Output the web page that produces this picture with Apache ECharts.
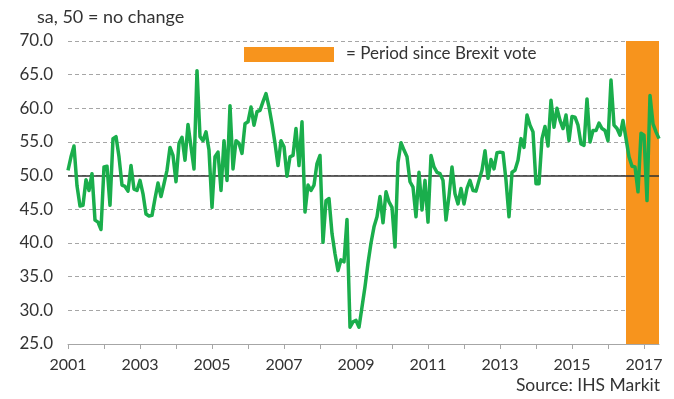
<!DOCTYPE html>
<html>
<head>
<meta charset="utf-8">
<script src="https://cdn.jsdelivr.net/npm/echarts@6/dist/echarts.min.js"></script>
<style>
html,body{margin:0;padding:0;background:#fff;}
#chart{width:674px;height:399px;}
</style>
</head>
<body>
<div id="chart"></div>
<script>
// Monthly index values, Jan 2001 - Jun 2017 (sa, 50 = no change)
var v2001 = [50.8, 52.8, 54.4, 48.5, 45.5, 45.6, 49.4, 47.8, 50.3, 43.4, 43.1, 42.0];
var v2002 = [51.3, 51.4, 45.6, 55.5, 55.8, 52.8, 48.6, 48.4, 47.7, 51.5, 48.0, 47.8];
var v2003 = [49.3, 47.3, 44.3, 44.0, 44.1, 46.6, 48.9, 46.9, 48.8, 50.8, 54.2, 53.0];
var v2004 = [49.1, 54.8, 55.7, 52.3, 57.6, 54.3, 51.0, 65.6, 55.8, 55.2, 56.5, 53.8];
var v2005 = [45.3, 52.8, 53.5, 47.8, 55.2, 49.3, 60.4, 51.0, 55.2, 54.8, 53.3, 57.7];
var v2006 = [58.0, 60.2, 57.5, 59.5, 59.7, 61.0, 62.2, 60.2, 57.7, 54.8, 51.5, 55.2];
var v2007 = [54.3, 49.9, 52.8, 53.0, 57.0, 51.5, 58.0, 44.6, 48.6, 47.8, 48.6, 51.8];
var v2008 = [53.0, 40.1, 46.3, 46.6, 41.4, 38.4, 35.9, 37.5, 37.2, 43.5, 27.5, 28.3];
var v2009 = [28.5, 27.5, 30.5, 33.5, 37.0, 40.0, 42.4, 43.9, 46.9, 43.0, 47.6, 46.1];
var v2010 = [45.3, 39.4, 52.0, 54.9, 53.8, 52.8, 49.1, 48.3, 43.9, 50.5, 44.9, 49.3];
var v2011 = [43.1, 53.0, 51.3, 50.5, 50.3, 49.3, 43.4, 47.0, 51.3, 47.3, 45.8, 48.1];
var v2012 = [45.8, 48.1, 49.3, 47.8, 47.7, 49.3, 50.8, 53.7, 49.6, 52.4, 51.0, 53.4];
var v2013 = [53.5, 53.4, 49.3, 43.9, 50.5, 50.8, 52.3, 55.5, 54.2, 59.0, 57.5, 56.5];
var v2014 = [48.8, 48.8, 55.5, 57.3, 54.4, 61.2, 57.2, 60.0, 58.2, 57.0, 59.0, 55.2];
var v2015 = [58.8, 58.7, 57.5, 54.7, 54.5, 61.4, 55.0, 56.7, 56.7, 57.8, 57.0, 56.7];
var v2016 = [55.2, 64.2, 57.5, 57.0, 56.0, 58.2, 55.5, 52.8, 51.4, 51.3, 47.6, 56.3];
var v2017 = [56.0, 46.3, 61.9, 57.7, 56.5, 55.5];

var years = [2001,2002,2003,2004,2005,2006,2007,2008,2009,2010,2011,2012,2013,2014,2015,2016,2017];
var yearValues = [v2001,v2002,v2003,v2004,v2005,v2006,v2007,v2008,v2009,v2010,v2011,v2012,v2013,v2014,v2015,v2016,v2017];

var brexitStart = '2016-07';
var brexitEnd = '2017-06';
var noChangeLevel = 50;

var titleText = 'sa, 50 = no change';
var legendText = '= Period since Brexit vote';
var sourceText = 'Source: IHS Markit';

var categories = [];
var values = [];
yearValues.forEach(function (arr, i) {
  arr.forEach(function (v, m) {
    categories.push(years[i] + '-' + (m < 9 ? '0' : '') + (m + 1));
    values.push(v);
  });
});

var FONT = 'Lato';
var TXT = '#333333';

var chart = echarts.init(document.getElementById('chart'), null, {renderer: 'canvas'});
chart.setOption({
  animation: false,
  backgroundColor: '#ffffff',
  grid: {left: 68, right: 15, top: 41, bottom: 55, containLabel: false},
  xAxis: {
    type: 'category',
    data: categories,
    boundaryGap: false,
    axisLine: {show: true, lineStyle: {color: '#A6A6A6', width: 1}},
    axisTick: {
      show: true,
      length: 5,
      interval: function (idx) { return idx % 12 === 0; },
      lineStyle: {color: '#A6A6A6'}
    },
    axisLabel: {
      interval: function (idx) { return idx % 24 === 0; },
      formatter: function (val) { return val.slice(0, 4); },
      fontFamily: FONT, fontSize: 16, color: TXT, margin: 13
    },
    splitLine: {show: false}
  },
  yAxis: {
    type: 'value',
    min: 25, max: 70, interval: 5,
    axisLine: {show: false},
    axisTick: {show: false},
    axisLabel: {
      formatter: function (v) { return v.toFixed(1); },
      fontFamily: FONT, fontSize: 17, color: TXT, margin: 15
    },
    splitLine: {
      show: true,
      lineStyle: {color: '#A6A6A6', type: [4, 3], width: 1}
    }
  },
  series: [{
    type: 'line',
    data: values,
    symbol: 'none',
    lineStyle: {color: '#1AAE4C', width: 3.5, join: 'round'},
    z: 5,
    markArea: {
      silent: true,
      itemStyle: {color: '#F7941D', opacity: 1},
      data: [[{xAxis: brexitStart}, {xAxis: brexitEnd}]]
    },
    markLine: {
      silent: true,
      symbol: 'none',
      label: {show: false},
      lineStyle: {color: '#303030', type: 'solid', width: 1.5},
      data: [{yAxis: noChangeLevel}]
    }
  }],
  graphic: [
    {type: 'text', left: 37, top: 8, style: {text: titleText, font: '18px Lato', fill: TXT}},
    {type: 'rect', shape: {x: 244, y: 47, width: 90, height: 15}, style: {fill: '#F7941D'}},
    {type: 'text', left: 346, top: 45, style: {text: legendText, font: '17px Lato', fill: TXT}},
    {type: 'text', right: 14, top: 376, style: {text: sourceText, font: '17.5px Lato', fill: TXT}}
  ]
});
</script>
</body>
</html>
